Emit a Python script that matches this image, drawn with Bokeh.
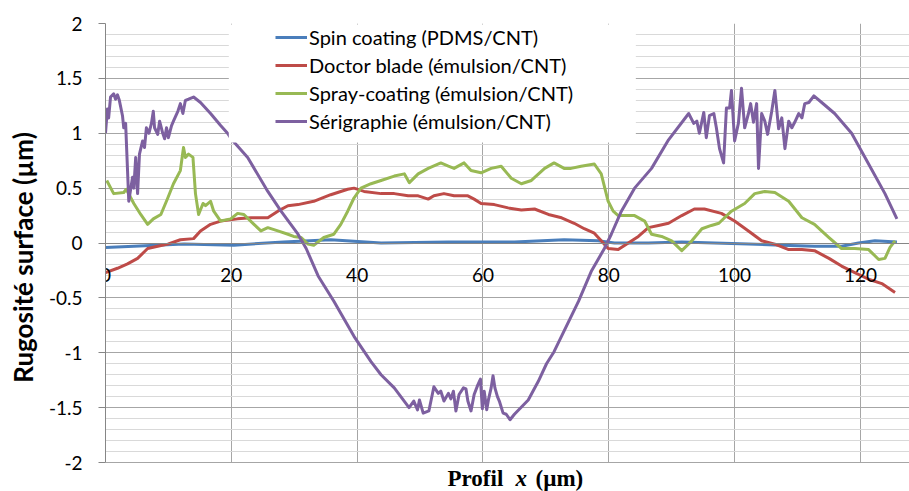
import math
from bokeh.plotting import figure
from bokeh.models import (Legend, LegendItem, BoxAnnotation, Label,
                          FixedTicker, SingleIntervalTicker)
from bokeh.embed import file_html
from bokeh.resources import INLINE

# ---------------- data ----------------
series_names = ["Spin coating (PDMS/CNT)", "Doctor blade (émulsion/CNT)",
                "Spray-coating (émulsion/CNT)", "Sérigraphie (émulsion/CNT)"]
series_colors = ["#4A7EBB", "#BE4B48", "#98B954", "#7D60A0"]

x_ticks = [0, 20, 40, 60, 80, 100, 120]
y_ticks = [-2, -1.5, -1, -0.5, 0, 0.5, 1, 1.5, 2]
y_tick_labels = ["-2", "-1.5", "-1", "-0.5", "0", "0.5", "1", "1.5", "2"]

spin_x = [0, 4.5, 12.5, 20.4, 28.3, 35.8, 43.8, 54.5, 65.0, 72.9, 78.3, 80.9,
          86.3, 91.6, 96.8, 102.2, 107.5, 112.7, 117.0, 119.7, 122.3, 125.8]
spin_y = [-0.04, -0.03, -0.01, -0.02, 0.01, 0.03, 0.0, 0.01, 0.01, 0.03, 0.02, 0.0,
          0.0, 0.01, 0.0, -0.01, -0.02, -0.03, -0.03, 0.0, 0.02, 0.01]

doctor_x = [0, 1.9, 3.5, 5.1, 6.7, 8.3, 9.9, 11.9, 14.0, 15.1, 16.7, 18.3, 21.0,
            23.1, 25.8, 27.4, 29.0, 30.6, 33.1, 35.8, 38.5, 39.5, 41.1, 43.8,
            45.9, 48.1, 49.7, 51.3, 52.2, 53.8, 55.4, 57.6, 58.6, 59.7, 61.8,
            64.0, 66.1, 68.2, 70.4, 72.5, 74.5, 76.1, 77.7, 78.8, 79.9, 81.5,
            83.1, 84.7, 86.3, 87.9, 89.5, 91.6, 93.6, 95.2, 97.9, 100.0, 102.2,
            104.3, 106.4, 108.6, 110.7, 112.7, 115.0, 117.0, 119.1, 121.3,
            123.4, 125.5]
doctor_y = [-0.27, -0.23, -0.19, -0.14, -0.05, -0.03, -0.01, 0.03, 0.04, 0.11,
            0.17, 0.2, 0.22, 0.23, 0.23, 0.29, 0.34, 0.35, 0.38, 0.44, 0.49,
            0.5, 0.47, 0.45, 0.45, 0.43, 0.43, 0.4, 0.43, 0.45, 0.43, 0.43,
            0.4, 0.36, 0.35, 0.32, 0.3, 0.31, 0.26, 0.23, 0.18, 0.13, 0.09,
            0.02, -0.05, -0.06, 0.0, 0.06, 0.14, 0.16, 0.18, 0.25, 0.31, 0.31,
            0.27, 0.2, 0.11, 0.02, -0.01, -0.06, -0.06, -0.07, -0.14, -0.21,
            -0.27, -0.33, -0.37, -0.45]

spray_x = [0.2, 1.3, 2.9, 3.3, 4.5, 5.6, 6.7, 7.6, 8.8, 9.9, 10.8, 11.9, 12.4,
           12.7, 13.2, 13.9, 14.3, 14.8, 15.5, 15.9, 16.7, 17.2, 18.3, 19.9,
           21.0, 22.0, 23.6, 24.7, 25.8, 27.4, 29.0, 29.9, 31.1, 32.2, 33.1,
           34.7, 36.3, 37.4, 38.5, 39.5, 40.6, 42.2, 43.8, 45.9, 47.5, 48.3,
           49.7, 51.3, 53.3, 54.5, 55.4, 57.0, 58.1, 59.7, 61.3, 62.9, 64.5,
           66.1, 67.7, 69.8, 71.3, 72.9, 74.0, 75.6, 77.7, 78.8, 79.9, 80.7,
           81.5, 84.1, 85.7, 86.8, 88.4, 90.0, 91.6, 93.2, 94.8, 96.3, 97.5,
           98.4, 99.5, 101.6, 103.2, 104.8, 106.4, 108.6, 110.7, 112.7, 115.0,
           117.0, 119.1, 121.3, 122.9, 123.9, 124.7, 125.5]
spray_y = [0.57, 0.45, 0.46, 0.49, 0.36, 0.26, 0.17, 0.22, 0.26, 0.41, 0.54,
           0.66, 0.87, 0.78, 0.81, 0.78, 0.45, 0.26, 0.36, 0.34, 0.38, 0.29,
           0.2, 0.22, 0.27, 0.26, 0.17, 0.11, 0.14, 0.11, 0.08, 0.06, 0.05,
           -0.01, -0.02, 0.05, 0.08, 0.17, 0.29, 0.41, 0.5, 0.54, 0.57, 0.61,
           0.63, 0.55, 0.63, 0.68, 0.73, 0.7, 0.68, 0.73, 0.66, 0.64, 0.68,
           0.7, 0.59, 0.54, 0.57, 0.68, 0.73, 0.68, 0.68, 0.7, 0.72, 0.63,
           0.38, 0.29, 0.25, 0.25, 0.2, 0.08, 0.06, 0.02, -0.07, 0.02, 0.13,
           0.16, 0.18, 0.23, 0.29, 0.36, 0.45, 0.47, 0.46, 0.38, 0.23, 0.17,
           0.05, -0.05, -0.05, -0.06, -0.15, -0.14, -0.04, 0.02]

seri_x = [0, 0.3, 0.5, 0.8, 1.3, 1.6, 1.9, 2.2, 2.7, 2.9, 3.2, 3.7, 4.3, 4.5,
          4.8, 5.1, 5.4, 5.9, 6.2, 6.5, 6.9, 7.3, 7.6, 7.8, 8.3, 8.6, 9.1, 9.4,
          9.7, 10.0, 10.5, 10.8, 11.5, 11.9, 12.3, 12.7, 13.2, 14.0, 15.1, 16.7,
          18.3, 19.4, 20.1, 22.6, 25.8, 27.9, 30.6, 31.9, 33.8, 36.3, 39.5,
          42.2, 43.8, 45.9, 48.25, 49.0, 49.6, 49.9, 50.5, 51.4, 52.2, 52.9,
          53.3, 53.8, 54.5, 54.9, 55.3, 55.7, 56.2, 56.9, 57.3, 57.6, 58.1,
          58.6, 59.2, 59.6, 59.9, 60.2, 60.6, 60.9, 61.3, 61.6, 61.9, 62.3,
          62.6, 63.2, 63.7, 64.3, 65.0, 67.2, 68.8, 70.1, 71.3, 75.2, 77.2,
          79.3, 80.4, 82.0, 84.1, 86.8, 89.5, 92.7, 93.5, 94.0, 94.4, 95.1,
          95.5, 96.0, 96.7, 97.1, 97.6, 98.25, 98.7, 99.2, 99.5, 100.0, 100.6,
          101.1, 101.6, 102.2, 102.55, 103.0, 103.5, 103.8, 104.3, 104.8,
          105.25, 105.9, 106.4, 107.0, 107.5, 108.0, 108.6, 109.1, 109.55,
          110.2, 110.7, 111.15, 111.8, 112.6, 113.85, 115.9, 118.6, 121.3,
          123.9, 125.8]
seri_y = [1.0, 1.22, 1.14, 1.33, 1.36, 1.31, 1.35, 1.30, 1.16, 1.05, 1.09, 0.38,
          0.6, 0.5, 0.78, 0.45, 0.81, 0.93, 0.87, 1.05, 1.0, 1.09, 1.2, 1.05,
          0.99, 1.11, 1.0, 0.95, 1.05, 0.96, 1.07, 1.11, 1.2, 1.27, 1.18, 1.30,
          1.31, 1.33, 1.28, 1.18, 1.07, 1.0, 0.94, 0.78, 0.47, 0.29, 0.08,
          -0.05, -0.3, -0.53, -0.85, -1.08, -1.2, -1.32, -1.5, -1.44, -1.52,
          -1.43, -1.55, -1.53, -1.31, -1.37, -1.35, -1.44, -1.37, -1.42, -1.35,
          -1.53, -1.38, -1.32, -1.33, -1.44, -1.53, -1.38, -1.29, -1.24, -1.51,
          -1.35, -1.52, -1.42, -1.32, -1.21, -1.32, -1.40, -1.44, -1.55, -1.56,
          -1.61, -1.56, -1.43, -1.26, -1.1, -0.99, -0.53, -0.26, -0.05, 0.08,
          0.29, 0.5, 0.68, 0.94, 1.18, 1.09, 1.11, 1.0, 1.19, 0.96, 1.16, 1.18,
          1.05, 0.86, 0.73, 1.23, 1.23, 1.39, 0.93, 1.09, 1.41, 1.05, 1.18,
          1.27, 1.1, 1.27, 0.68, 1.18, 1.11, 0.99, 1.2, 1.39, 1.04, 1.14, 0.86,
          1.11, 1.05, 1.1, 1.18, 1.14, 1.27, 1.28, 1.34, 1.28, 1.18, 1.0, 0.72,
          0.45, 0.22]

# ---------------- figure ----------------
# frame runs to the bottom of the canvas; the strip below -2 is blanked
# and holds the x-axis title
p = figure(width=909, height=491, x_range=(0, 127.8), y_range=(-2.264, 2),
           output_backend="svg", toolbar_location=None,
           min_border_left=105, min_border_right=0, min_border_top=23,
           min_border_bottom=0)
p.outline_line_color = None
p.background_fill_color = "white"
p.border_fill_color = "white"

# x axis crossing at y = 0
p.xaxis.ticker = FixedTicker(ticks=x_ticks)
p.xaxis.fixed_location = 0
p.xaxis.axis_line_color = "#868686"
p.xaxis.major_tick_out = 0
p.xaxis.major_tick_in = 0
p.xaxis.minor_tick_out = 0
p.xaxis.minor_tick_in = 0
p.xaxis.major_label_standoff = 25
p.xaxis.major_label_text_font = "Lato"
p.xaxis.major_label_text_font_size = "19px"
p.xaxis.major_label_text_color = "black"

p.yaxis.ticker = SingleIntervalTicker(interval=0.5, num_minor_ticks=5)
p.yaxis.bounds = (-2, 2)
p.yaxis.major_label_overrides = {t: s for t, s in zip(y_ticks, y_tick_labels)}
p.yaxis.axis_line_color = "#868686"
p.yaxis.major_tick_line_color = "#868686"
p.yaxis.major_tick_out = 7
p.yaxis.major_tick_in = 0
p.yaxis.minor_tick_out = 0
p.yaxis.minor_tick_in = 0
p.yaxis.major_label_standoff = 16
p.yaxis.major_label_text_font = "Lato"
p.yaxis.major_label_text_font_size = "19px"
p.yaxis.major_label_text_color = "black"
p.yaxis.axis_label = "Rugosité surface (µm)"
p.yaxis.axis_label_text_font = "Lato"
p.yaxis.axis_label_text_font_style = "bold"
p.yaxis.axis_label_text_font_size = "26px"
p.yaxis.axis_label_text_color = "black"
p.yaxis.axis_label_standoff = 7

# grids
p.xgrid.ticker = FixedTicker(ticks=x_ticks)
p.xgrid.grid_line_color = "#a6a6a6"
p.ygrid.grid_line_color = "#a6a6a6"
p.ygrid.minor_grid_line_color = "#d9d9d9"

# lines
xs = [spin_x, doctor_x, spray_x, seri_x]
ys = [spin_y, doctor_y, spray_y, seri_y]
renderers = []
for x, y, c in zip(xs, ys, series_colors):
    renderers.append(p.line(x, y, line_width=3, line_color=c, line_join="round"))

# blank strip under the plot area (below y = -2)
p.add_layout(BoxAnnotation(top=-2.005, fill_color="white", fill_alpha=1.0,
                           line_alpha=0))

# white legend background
p.add_layout(BoxAnnotation(left=19.6, right=84.3, top=1.99, bottom=0.915,
                           fill_color="white", fill_alpha=1.0, line_alpha=0))

legend = Legend(items=[LegendItem(label=n, renderers=[r])
                       for n, r in zip(series_names, renderers)],
                location=(170, 357), margin=0, padding=0, spacing=2,
                glyph_width=32, glyph_height=26, label_height=26,
                label_standoff=2, label_text_font="Lato",
                label_text_font_size="20px", label_text_color="black",
                background_fill_alpha=0, border_line_color=None)
p.add_layout(legend)

# x-axis title: "Profil x (µm)" with italic x
for txt, xpos, style in [("Profil", 342, "bold"), ("x", 410, "bold italic"),
                         ("(µm)", 430, "bold")]:
    p.add_layout(Label(x=xpos, y=13, x_units="screen", y_units="screen",
                       text=txt, text_align="left", text_baseline="alphabetic",
                       text_font="Liberation Serif", text_font_style=style,
                       text_font_size="23px", text_color="black"))

open("out.html", "w").write(file_html(p, INLINE))
